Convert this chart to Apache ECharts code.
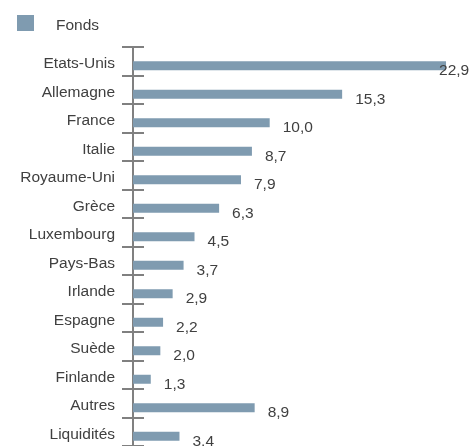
<!DOCTYPE html>
<html>
<head>
<meta charset="utf-8">
<script src="https://cdn.jsdelivr.net/npm/echarts@6/dist/echarts.min.js"></script>
<style>html,body{margin:0;padding:0;background:#fff;}#c{width:472px;height:446px;}</style>
</head>
<body>
<div id="c"></div>
<script>
const categories = ['Etats-Unis','Allemagne','France','Italie','Royaume-Uni','Grèce','Luxembourg','Pays-Bas','Irlande','Espagne','Suède','Finlande','Autres','Liquidités'];
const fondsValues = [22.9,15.3,10.0,8.7,7.9,6.3,4.5,3.7,2.9,2.2,2.0,1.3,8.9,3.4];
const seriesName = 'Fonds';

const barColor = '#7f9bb0';
const textColor = '#404040';
const axisColor = '#808080';
const FONT = "'Liberation Sans', Arial, sans-serif";

const chart = echarts.init(document.getElementById('c'), null, {renderer: 'canvas'});
const fmt = v => v.toFixed(1).replace('.', ',');

const dataItems = fondsValues.map((v, i) => {
  const item = {value: v};
  if (i === 0) item.label = {offset: [-20, 5]};
  return item;
});

chart.setOption({
  animation: false,
  backgroundColor: '#fff',
  legend: {
    data: [seriesName],
    left: 12, top: 10,
    icon: 'rect', itemWidth: 17, itemHeight: 16,
    formatter: n => '{t|' + n + '}',
    textStyle: {
      fontFamily: FONT, fontSize: 15.5, color: textColor,
      rich: {t: {fontFamily: FONT, fontSize: 15.5, color: textColor, padding: [6,0,0,17]}}
    }
  },
  grid: {left: 133, right: 0, top: 47, bottom: -5, containLabel: false},
  xAxis: {type: 'value', min: 0, max: 24.8, show: false},
  yAxis: [
    {
      type: 'category', data: categories, inverse: true, position: 'left',
      axisLine: {show: true, lineStyle: {color: axisColor, width: 2}},
      axisTick: {show: true, length: 11, lineStyle: {color: axisColor, width: 2}},
      axisLabel: {
        margin: 18, fontFamily: FONT, fontSize: 15.5, color: textColor,
        formatter: v => '{c|' + v + '}',
        rich: {c: {fontFamily: FONT, fontSize: 15.5, color: textColor, padding: [5,0,0,0]}}
      }
    },
    {
      type: 'category', data: categories, inverse: true, position: 'right', offset: -339,
      axisLine: {show: false},
      axisTick: {show: true, length: 11, lineStyle: {color: axisColor, width: 2}},
      axisLabel: {show: false}
    }
  ],
  series: [
    {
      name: 'spacer', type: 'bar', yAxisIndex: 0, barWidth: 9, barGap: '0%',
      data: fondsValues.map(() => 0), itemStyle: {color: 'rgba(0,0,0,0)'}, silent: true
    },
    {
      name: seriesName, type: 'bar', yAxisIndex: 0, barWidth: 9, barGap: '0%',
      data: dataItems,
      itemStyle: {color: barColor},
      label: {
        show: true, position: 'right', distance: 13, offset: [0, 5],
        fontFamily: FONT, fontSize: 15.5, color: textColor,
        formatter: p => fmt(p.value)
      }
    }
  ]
});
</script>
</body>
</html>
